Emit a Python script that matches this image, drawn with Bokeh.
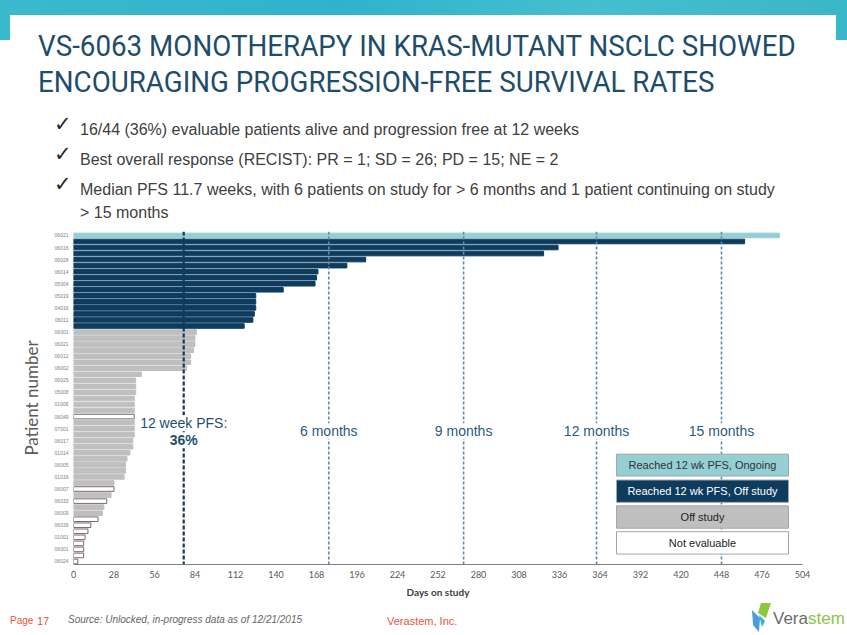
from bokeh.plotting import figure
from bokeh.models import ColumnDataSource, Range1d, Label, FixedTicker, Div
from bokeh.layouts import column
from bokeh.embed import file_html
from bokeh.resources import INLINE

# ---------------- data ----------------
days_on_study = [488, 464, 335, 325, 202, 189, 169, 168, 167, 145, 126, 126, 126, 125, 124, 118,
                 85, 84, 84, 83, 81, 81, 78, 47, 43, 43, 43, 42, 42, 42, 42, 42, 42, 42, 41, 41,
                 39, 37, 36, 36, 35, 28, 28, 26, 23, 21, 20, 17, 12, 10, 8, 7, 7, 7, 3]
status = (["Reached 12 wk PFS, Ongoing"] + ["Reached 12 wk PFS, Off study"] * 15
          + ["Off study"] * 14 + ["Not evaluable"] + ["Off study"] * 11 + ["Not evaluable"]
          + ["Off study"] + ["Not evaluable"] + ["Off study"] * 2 + ["Not evaluable"] * 8)
patient_labels = ["06021", "06016", "06028", "06014", "05004", "05019", "04016", "06011", "06001",
                  "06021", "06012", "06002", "06025", "05008", "01006", "06049", "07001", "06017",
                  "01014", "06005", "01016", "06007", "06033", "06009", "06039", "01001", "06001",
                  "06024"]
x_ticks = list(range(0, 505, 28))
pfs12_day = 76.2
milestone_days = [176.5, 269.7, 361.6, 448.0]
milestone_labels = ["6 months", "9 months", "12 months", "15 months"]
legend_items = ["Reached 12 wk PFS, Ongoing", "Reached 12 wk PFS, Off study", "Off study", "Not evaluable"]
fill_map = {"Reached 12 wk PFS, Ongoing": "#93CFD3", "Reached 12 wk PFS, Off study": "#0E3C5F",
            "Off study": "#BFBFBF", "Not evaluable": "#FFFFFF"}
line_map = {"Reached 12 wk PFS, Ongoing": "#93CFD3", "Reached 12 wk PFS, Off study": "#0E3C5F",
            "Off study": "#BFBFBF", "Not evaluable": "#7A6A6A"}
legend_text_color = {"Reached 12 wk PFS, Ongoing": "#333333", "Reached 12 wk PFS, Off study": "#FFFFFF",
                     "Off study": "#222222", "Not evaluable": "#222222"}
title_lines = ["VS-6063 MONOTHERAPY IN KRAS-MUTANT NSCLC SHOWED",
               "ENCOURAGING PROGRESSION-FREE SURVIVAL RATES"]
bullets = ["16/44 (36%) evaluable patients alive and progression free at 12 weeks",
           "Best overall response (RECIST): PR = 1; SD = 26; PD = 15; NE = 2",
           "Median PFS 11.7 weeks, with 6 patients on study for &gt; 6 months and 1 patient continuing on study",
           "&gt; 15 months"]

n = len(days_on_study)
idx = list(range(1, n + 1))

W = 847
HEAD_H = 223
CHART_BOTTOM = 600
PAGE_H = 635
FL, FR, FT, FB = 73, 802, 231, 566   # chart frame in page pixels
X0, X1 = 0, 504
Y0, Y1 = 0.35, 55.5


def span(x, yc, text, size, color, font="Liberation Sans", weight="normal", style="normal",
         extra="", lh=None):
    lh = lh or int(size * 1.4)
    return (f'<div style="position:absolute;left:{x}px;top:{yc - lh / 2}px;height:{lh}px;'
            f'line-height:{lh}px;white-space:nowrap;font-family:\'{font}\';font-size:{size}px;'
            f'font-weight:{weight};font-style:{style};color:{color};{extra}">{text}</div>')


def box(x, y, w, h, color, extra=""):
    return (f'<div style="position:absolute;left:{x}px;top:{y}px;width:{w}px;height:{h}px;'
            f'background:{color};{extra}"></div>')


# ---------------- header ----------------
head_html = ['<div style="position:relative;width:847px;height:223px;overflow:hidden;margin:0;padding:0;">']
head_html.append(box(0, 0, W, 15, "linear-gradient(90deg,#3BB9CC,#2FB3CB 40%,#45BFCF 70%,#3AB6C9)"))
head_html.append(box(0, 0, 10, 40, "#3BB9CC"))
head_html.append(box(836, 0, 11, 40, "#3AB6C9"))
head_html.append(box(10, 15, 826, 60, "white", "border-radius:10px 10px 0 0;"))
title_style = "transform:scaleX(0.925);transform-origin:0 50%;"
head_html.append(span(38, 46, title_lines[0], 30, "#1E4D6B", font="Roboto", extra=title_style, lh=30))
head_html.append(span(38, 81.5, title_lines[1], 30, "#1E4D6B", font="Roboto", extra=title_style, lh=30))
for cy in (124, 154, 184):
    head_html.append(span(54, cy, "\u2713", 21, "#262626", font="DejaVu Sans", weight="bold", lh=24))
for cy, t in zip((130, 160, 190, 213), bullets):
    head_html.append(span(80, cy, t, 16, "#404040", lh=20))
head_html.append('</div>')
head = Div(text="".join(head_html), width=W, height=HEAD_H, margin=(0, 0, 0, 0))

# ---------------- chart ----------------
p = figure(width=W, height=CHART_BOTTOM - HEAD_H, x_range=Range1d(X0, X1), y_range=Range1d(Y1, Y0),
           output_backend="svg", toolbar_location=None,
           min_border_left=FL, min_border_right=W - FR,
           min_border_top=FT - HEAD_H, min_border_bottom=CHART_BOTTOM - FB)
p.outline_line_color = None
p.xgrid.visible = False
p.ygrid.visible = False
p.background_fill_color = "white"
p.border_fill_color = "white"


def X(px):
    return X0 + (px - FL) * (X1 - X0) / (FR - FL)


def Y(py):
    return Y0 + (py - FT) * (Y1 - Y0) / (FB - FT)


def label(fig, x, y, text, size, color, font="Liberation Sans", style="normal", align="left",
          baseline="middle", bg=None):
    fig.add_layout(Label(x=x, y=y, text=text, text_font=font, text_font_size=f"{size}px",
                         text_font_style=style, text_color=color, text_align=align,
                         text_baseline=baseline, background_fill_color=bg))


p.xaxis.ticker = FixedTicker(ticks=x_ticks)
p.xaxis.axis_line_color = "#7F7F7F"
p.xaxis.major_tick_line_color = None
p.xaxis.minor_tick_line_color = None
p.xaxis.major_tick_out = 0
p.xaxis.major_label_standoff = 6
p.xaxis.major_label_text_font = "Lato"
p.xaxis.major_label_text_font_size = "9px"
p.xaxis.major_label_text_color = "#595959"
p.xaxis.axis_label = "Days on study"
p.xaxis.axis_label_text_font = "Lato"
p.xaxis.axis_label_text_font_style = "bold"
p.xaxis.axis_label_text_font_size = "10px"
p.xaxis.axis_label_text_color = "#404040"
p.xaxis.axis_label_standoff = 5

tick_pos = idx[::2]
p.yaxis.ticker = FixedTicker(ticks=tick_pos)
p.yaxis.major_label_overrides = {t: lab for t, lab in zip(tick_pos, patient_labels)}
p.yaxis.axis_line_color = None
p.yaxis.major_tick_line_color = None
p.yaxis.minor_tick_line_color = None
p.yaxis.major_tick_out = 0
p.yaxis.major_label_standoff = 5
p.yaxis.major_label_text_font = "Liberation Sans"
p.yaxis.major_label_text_font_size = "5px"
p.yaxis.major_label_text_color = "#808080"
p.yaxis.axis_label = "Patient number"
p.yaxis.axis_label_text_font = "Lato"
p.yaxis.axis_label_text_font_style = "normal"
p.yaxis.axis_label_text_font_size = "17px"
p.yaxis.axis_label_text_color = "#595959"
p.yaxis.axis_label_standoff = 10

src = ColumnDataSource(dict(y=idx, right=days_on_study, status=status,
                            fill=[fill_map[s] for s in status],
                            line=[line_map[s] for s in status]))
p.hbar(y="y", left=0, right="right", height=0.76, fill_color="fill", line_color="line",
       line_width=1, source=src)

p.segment(x0=milestone_days, x1=milestone_days, y0=[Y0] * 4, y1=[Y1] * 4,
          line_color="#5F8CAE", line_width=1.6, line_dash="3 2")
p.segment(x0=[pfs12_day], x1=[pfs12_day], y0=[Y0], y1=[Y1],
          line_color="#0F3A5C", line_width=2.2, line_dash="4 2")

lg_tops = [455, 481, 507, 533]
lg_bots = [477, 503.5, 529.5, 555.5]
p.quad(left=[X(616)] * 4, right=[X(788)] * 4, top=[Y(t) for t in lg_tops],
       bottom=[Y(b) for b in lg_bots], fill_color=[fill_map[s] for s in legend_items],
       line_color="#A6A6A6", line_width=1)
for s, t, b in zip(legend_items, lg_tops, lg_bots):
    label(p, X(702), Y((t + b) / 2), s, 11, legend_text_color[s], align="center")

for d, s in zip(milestone_days, milestone_labels):
    label(p, d, Y(432), s, 14, "#2B5B7D", align="center", bg="white")
label(p, pfs12_day, Y(424), "12 week PFS:", 14, "#1F4E6E", align="center", bg="white")
label(p, pfs12_day, Y(441), "36%", 14, "#1F4E6E", style="bold", align="center", bg="white")

# ---------------- footer ----------------
FOOT_H = PAGE_H - CHART_BOTTOM
fo = CHART_BOTTOM
foot_html = [f'<div style="position:relative;width:847px;height:{FOOT_H}px;overflow:hidden;margin:0;padding:0;">']
foot_html.append(span(10, 621 - fo, "Page", 10, "#E8553C"))
foot_html.append(span(37, 621 - fo, "17", 11, "#E8553C"))
foot_html.append(span(68, 620 - fo, "Source: Unlocked, in-progress data as of 12/21/2015", 10, "#666666",
                      style="italic"))
foot_html.append(span(387, 621 - fo, "Verastem, Inc.", 11, "#E8553C"))
foot_html.append(span(773, 618 - fo, '<span style="color:#6B6B6B">Vera</span>'
                                     '<span style="color:#8DC63F">stem</span>', 17, "#6B6B6B"))
foot_html.append('<svg style="position:absolute;left:750px;top:1px" width="22" height="32">'
                 '<polygon points="11,2 21,2 16,17 8,12" fill="#8DC63F"/>'
                 '<polygon points="2,9 10,17 9,31 3,24" fill="#4A9FD8"/>'
                 '<polygon points="9,14 15,20 12,26" fill="#2BB3C9"/></svg>')
foot_html.append('</div>')
foot = Div(text="".join(foot_html), width=W, height=FOOT_H, margin=(0, 0, 0, 0))

layout = column(head, p, foot, spacing=0)
open("out.html", "w").write(file_html(layout, INLINE))
